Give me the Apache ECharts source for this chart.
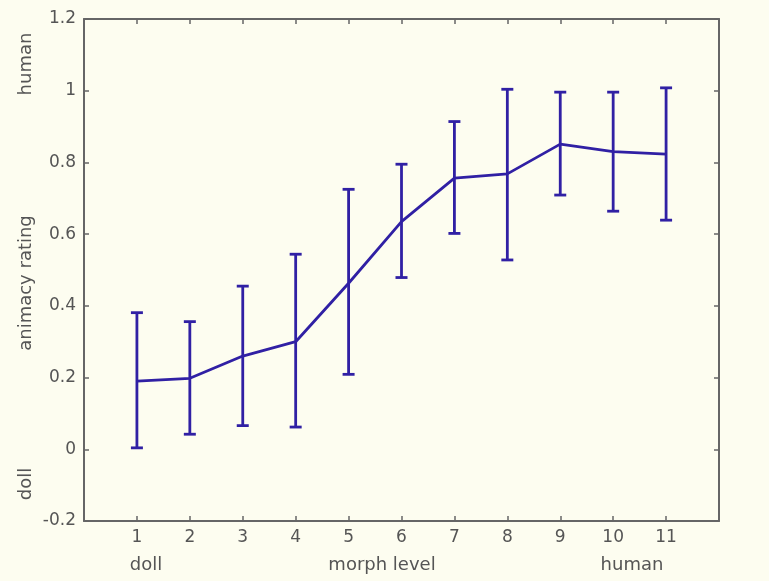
<!DOCTYPE html>
<html>
<head>
<meta charset="utf-8">
<script src="https://cdn.jsdelivr.net/npm/echarts@6/dist/echarts.min.js"></script>
<style>
html,body{margin:0;padding:0;background:#fdfdf0;}
#c{width:769px;height:581px;}
</style>
</head>
<body>
<div id="c"></div>
<script>
// data
var morphLevels = [1, 2, 3, 4, 5, 6, 7, 8, 9, 10, 11];
var meanRating  = [0.190, 0.198, 0.260, 0.300, 0.463, 0.635, 0.756, 0.768, 0.851, 0.830, 0.823];
var upperBar    = [0.381, 0.356, 0.455, 0.544, 0.725, 0.795, 0.914, 1.004, 0.996, 0.996, 1.008];
var lowerBar    = [0.004, 0.042, 0.066, 0.062, 0.209, 0.479, 0.602, 0.528, 0.709, 0.664, 0.639];
var xTickLabels = ['1','2','3','4','5','6','7','8','9','10','11'];

var blue = '#3020a4';
var axisGray = '#666666';
var textGray = '#555555';
var fontFam = 'DejaVu Sans, Liberation Sans, sans-serif';

var lineData = morphLevels.map(function (x, i) { return [x, meanRating[i]]; });
var errData = morphLevels.map(function (x, i) { return [x, lowerBar[i], upperBar[i]]; });

var chart = echarts.init(document.getElementById('c'), null, {renderer: 'canvas'});

function xAxisCfg(pos, showLabels) {
  return {
    type: 'value', position: pos, min: 0, max: 12, interval: 1,
    axisLine: {show: true, onZero: false, lineStyle: {color: axisGray, width: 2}},
    axisTick: {show: true, inside: true, length: 5, customValues: morphLevels,
               lineStyle: {color: axisGray, width: 1.5}},
    axisLabel: {show: showLabels, customValues: morphLevels, margin: 8,
                color: textGray, fontSize: 17, fontFamily: fontFam,
                formatter: function (v) { return xTickLabels[morphLevels.indexOf(v)] || ''; }},
    splitLine: {show: false}
  };
}
function yAxisCfg(pos, showLabels) {
  return {
    type: 'value', position: pos, min: -0.2, max: 1.2, interval: 0.2,
    axisLine: {show: true, onZero: false, lineStyle: {color: axisGray, width: 2}},
    axisTick: {show: true, inside: true, length: 5, lineStyle: {color: axisGray, width: 1.5}},
    axisLabel: {show: showLabels, margin: 8, color: textGray, fontSize: 17, fontFamily: fontFam,
                formatter: function (v) { return String(Math.round(v * 10) / 10); }},
    splitLine: {show: false}
  };
}

var option = {
  backgroundColor: '#fdfdf0',
  animation: false,
  grid: {left: 84, right: 50, top: 19, bottom: 60, containLabel: false},
  xAxis: [xAxisCfg('bottom', true), xAxisCfg('top', false)],
  yAxis: [yAxisCfg('left', true), yAxisCfg('right', false)],
  series: [
    {
      type: 'custom',
      xAxisIndex: 0, yAxisIndex: 0,
      data: errData,
      renderItem: function (params, api) {
        var x = api.value(0);
        var lo = api.coord([x, api.value(1)]);
        var hi = api.coord([x, api.value(2)]);
        var hw = 6;
        var style = {stroke: blue, lineWidth: 2.8, fill: null};
        return {
          type: 'group',
          children: [
            {type: 'line', shape: {x1: lo[0], y1: lo[1], x2: hi[0], y2: hi[1]}, style: style},
            {type: 'line', shape: {x1: lo[0] - hw, y1: lo[1], x2: lo[0] + hw, y2: lo[1]}, style: style},
            {type: 'line', shape: {x1: hi[0] - hw, y1: hi[1], x2: hi[0] + hw, y2: hi[1]}, style: style}
          ]
        };
      }
    },
    {
      type: 'line',
      xAxisIndex: 0, yAxisIndex: 0,
      data: lineData,
      symbol: 'none',
      lineStyle: {color: blue, width: 2.8},
      z: 3
    }
  ],
  graphic: [
    {type: 'text', x: 26, y: 64, rotation: Math.PI / 2,
     style: {text: 'human', fill: textGray, font: '18px ' + fontFam, align: 'center', verticalAlign: 'middle'}},
    {type: 'text', x: 26, y: 283, rotation: Math.PI / 2,
     style: {text: 'animacy rating', fill: textGray, font: '18px ' + fontFam, align: 'center', verticalAlign: 'middle'}},
    {type: 'text', x: 26, y: 484, rotation: Math.PI / 2,
     style: {text: 'doll', fill: textGray, font: '18px ' + fontFam, align: 'center', verticalAlign: 'middle'}},
    {type: 'text', x: 146, y: 565,
     style: {text: 'doll', fill: textGray, font: '18px ' + fontFam, align: 'center', verticalAlign: 'middle'}},
    {type: 'text', x: 382, y: 565,
     style: {text: 'morph level', fill: textGray, font: '18px ' + fontFam, align: 'center', verticalAlign: 'middle'}},
    {type: 'text', x: 632, y: 565,
     style: {text: 'human', fill: textGray, font: '18px ' + fontFam, align: 'center', verticalAlign: 'middle'}}
  ]
};
chart.setOption(option);
</script>
</body>
</html>
